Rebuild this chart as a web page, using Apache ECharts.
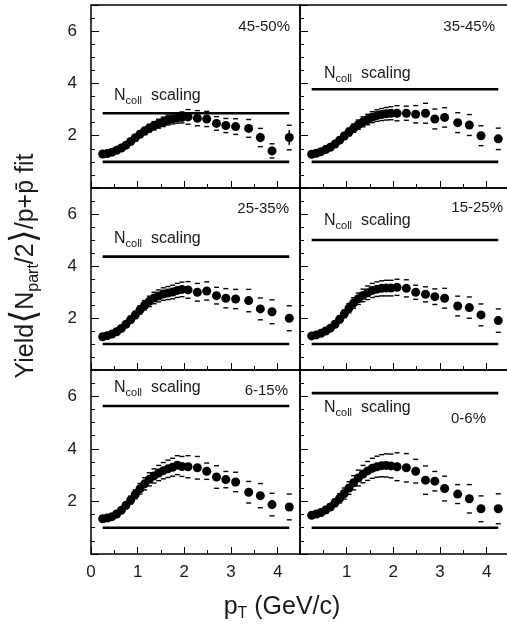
<!DOCTYPE html>
<html><head><meta charset="utf-8">
<script src="https://cdn.jsdelivr.net/npm/echarts@6/dist/echarts.min.js"></script>
<style>html,body{margin:0;padding:0;background:#fff}#c{width:507px;height:629px}</style>
</head><body><div id="c"></div>
<script>
// ---------------- data ----------------
const pT = [0.25,0.35,0.45,0.55,0.65,0.75,0.85,0.95,1.05,1.15,1.25,1.35,1.45,1.55,1.65,1.75,1.85,1.95,
            2.08,2.28,2.48,2.69,2.89,3.10,3.38,3.63,3.88,4.25];
const centralityLabels = ['45-50%','35-45%','25-35%','15-25%','6-15%','0-6%'];
const ncollScaling = [2.86,3.78,4.36,5.00,5.63,6.12];
const npartScaling = 1.0;
const scalingRange = [0.25,4.25];
const xTicks = [0,1,2,3,4];
const yTicks = [2,4,6];

const yield45_50 = [1.30,1.32,1.37,1.44,1.53,1.64,1.78,1.92,2.06,2.18,2.29,2.38,2.46,2.53,2.60,2.65,2.68,2.70,
                    2.72,2.67,2.64,2.47,2.39,2.35,2.28,1.93,1.42,1.93];
const yield35_45 = [1.29,1.33,1.39,1.47,1.56,1.68,1.83,1.99,2.14,2.29,2.42,2.53,2.62,2.71,2.77,2.81,2.84,2.86,
                    2.86,2.86,2.82,2.86,2.64,2.70,2.50,2.41,2.00,1.88];
const yield25_35 = [1.28,1.32,1.38,1.47,1.60,1.76,1.94,2.12,2.31,2.49,2.64,2.77,2.85,2.92,2.96,3.00,3.06,3.10,
                    3.08,2.99,3.04,2.86,2.76,2.73,2.67,2.35,2.24,1.99];
const yield15_25 = [1.31,1.35,1.41,1.50,1.61,1.76,1.95,2.16,2.38,2.58,2.74,2.87,2.97,3.06,3.11,3.14,3.15,3.15,
                    3.18,3.14,2.99,2.91,2.82,2.76,2.46,2.40,2.12,1.90];
const yield6_15  = [1.34,1.37,1.42,1.52,1.66,1.85,2.05,2.27,2.48,2.67,2.84,2.97,3.08,3.17,3.24,3.30,3.38,3.33,
                    3.32,3.28,3.15,2.93,2.83,2.74,2.35,2.22,1.88,1.79];
const yield0_6   = [1.47,1.52,1.58,1.67,1.79,1.95,2.12,2.30,2.51,2.71,2.89,3.04,3.16,3.26,3.32,3.36,3.37,3.35,
                    3.32,3.28,3.15,2.81,2.77,2.49,2.28,2.10,1.72,1.72];

const sys45_50 = [0.04,0.04,0.05,0.06,0.07,0.08,0.10,0.11,0.13,0.14,0.15,0.16,0.17,0.18,0.19,0.20,0.20,0.21,
                  0.28,0.29,0.29,0.26,0.27,0.30,0.34,0.35,0.27,0.47];
const sys35_45 = [0.04,0.05,0.05,0.06,0.08,0.09,0.11,0.13,0.15,0.16,0.18,0.19,0.20,0.21,0.22,0.23,0.24,0.25,
                  0.29,0.27,0.33,0.38,0.38,0.37,0.38,0.40,0.38,0.41];
const sys25_35 = [0.04,0.05,0.05,0.07,0.08,0.10,0.12,0.14,0.16,0.18,0.20,0.22,0.23,0.24,0.25,0.26,0.27,0.28,
                  0.32,0.34,0.35,0.32,0.37,0.37,0.43,0.42,0.46,0.48];
const sys15_25 = [0.04,0.05,0.06,0.07,0.09,0.11,0.13,0.15,0.18,0.20,0.22,0.24,0.26,0.27,0.28,0.29,0.30,0.30,
                  0.31,0.33,0.27,0.29,0.30,0.38,0.38,0.41,0.42,0.45];
const sys6_15  = [0.05,0.05,0.06,0.08,0.10,0.12,0.15,0.17,0.20,0.23,0.25,0.27,0.29,0.31,0.33,0.34,0.36,0.38,
                  0.42,0.43,0.31,0.43,0.31,0.37,0.41,0.46,0.43,0.49];
const sys0_6   = [0.05,0.06,0.08,0.10,0.12,0.15,0.18,0.21,0.24,0.27,0.30,0.33,0.36,0.38,0.40,0.42,0.44,0.45,
                  0.53,0.54,0.45,0.54,0.37,0.47,0.36,0.54,0.49,0.57];

const stat45_50 = [0,0,0,0,0,0,0,0,0,0,0,0,0,0,0,0,0,0,
                   0,0,0,0,0,0.06,0.08,0.18,0.18,0.28];

// ---------------- build ----------------
const FONT = '"Liberation Sans", Arial, Helvetica, sans-serif';
const yields = [yield45_50,yield35_45,yield25_35,yield15_25,yield6_15,yield0_6];
const syss = [sys45_50,sys35_45,sys25_35,sys15_25,sys6_15,sys0_6];
const stats = [stat45_50,null,null,null,null,null];

const colLeft = [91,300];
const rowBox = [[5,183],[188,182],[370,184]];
const PW = 209;
const XMAX = 4.48, YMIN = 0, YMAX = 7;

const grid=[], xAxis=[], yAxis=[], series=[];
for (let i=0;i<6;i++){
  const r=Math.floor(i/2), c=i%2;
  grid.push({left:colLeft[c], top:rowBox[r][0], width:PW, height:rowBox[r][1],
             outerBoundsMode:'none', containLabel:false,
             show:true, borderColor:'#000', borderWidth:1.5, backgroundColor:'transparent'});
  const bx = {gridIndex:i, type:'value', min:0, max:XMAX, position:'bottom',
              axisLine:{show:false}, splitLine:{show:false}};
  xAxis.push(Object.assign({}, bx, {interval:1,
    axisTick:{show:true, inside:true, length:7, lineStyle:{color:'#000', width:1}},
    axisLabel:{show:r===2, margin:10, fontSize:17, color:'#1a1a1a', fontFamily:FONT,
      formatter:v => (xTicks.indexOf(v)>=0 && !(c===1 && v===0)) ? String(v) : ''}}));
  xAxis.push(Object.assign({}, bx, {interval:0.5,
    axisTick:{show:true, inside:true, length:4, lineStyle:{color:'#000', width:1}},
    axisLabel:{show:false}}));
  const by = {gridIndex:i, type:'value', min:YMIN, max:YMAX, position:'left',
              axisLine:{show:false}, splitLine:{show:false}};
  yAxis.push(Object.assign({}, by, {interval:2,
    axisTick:{show:true, inside:true, length:8, lineStyle:{color:'#000', width:1}},
    axisLabel:{show:c===0, margin:14, fontSize:17, color:'#1a1a1a', fontFamily:FONT,
      formatter:v => yTicks.indexOf(v)>=0 ? String(v) : ''}}));
  yAxis.push(Object.assign({}, by, {interval:0.5,
    axisTick:{show:true, inside:true, length:4, lineStyle:{color:'#000', width:1}},
    axisLabel:{show:false}}));

  const xi=2*i, yi=2*i;
  const y=yields[i], s=syss[i];
  series.push({type:'line', xAxisIndex:xi, yAxisIndex:yi, symbol:'none', silent:true,
    data:[[scalingRange[0],ncollScaling[i]],[scalingRange[1],ncollScaling[i]]],
    lineStyle:{color:'#000', width:2.6, opacity:1}});
  series.push({type:'line', xAxisIndex:xi, yAxisIndex:yi, symbol:'none', silent:true,
    data:[[scalingRange[0],npartScaling],[scalingRange[1],npartScaling]],
    lineStyle:{color:'#000', width:2.6, opacity:1}});
  series.push({type:'scatter', xAxisIndex:xi, yAxisIndex:yi, symbol:'rect', symbolSize:[5,1.4], silent:true,
    itemStyle:{color:'#000', opacity:1}, data:pT.map((x,k)=>[x, y[k]+s[k]])});
  series.push({type:'scatter', xAxisIndex:xi, yAxisIndex:yi, symbol:'rect', symbolSize:[5,1.4], silent:true,
    itemStyle:{color:'#000', opacity:1}, data:pT.map((x,k)=>[x, y[k]-s[k]])});
  if (stats[i]) {
    const st=stats[i];
    series.push({type:'custom', xAxisIndex:xi, yAxisIndex:yi, silent:true,
      data:pT.map((x,k)=>[x, y[k], st[k]]).filter(d=>d[2]>0),
      renderItem:(params, api)=>{
        const x=api.value(0), v=api.value(1), e=api.value(2);
        const p1=api.coord([x, v-e]), p2=api.coord([x, v+e]);
        return {type:'line', shape:{x1:p1[0],y1:p1[1],x2:p2[0],y2:p2[1]},
                style:{stroke:'#000', lineWidth:1.6}};
      }});
  }
  series.push({type:'scatter', xAxisIndex:xi, yAxisIndex:yi, symbol:'circle', symbolSize:9, silent:true,
    itemStyle:{color:'#000', opacity:1, borderWidth:0}, data:pT.map((x,k)=>[x, y[k]]), z:5});
}

// annotation positions (pixels)
const labelPos = [[290,27],[495,27],[289,209],[503,208],[288,391],[486,419]];
const ncollPos = [[114,96],[324,74],[114,239],[324,221],[114,388],[324,408]];

const graphic = [];
for (let i=0;i<6;i++){
  graphic.push({type:'text', x:labelPos[i][0], y:labelPos[i][1], silent:true,
    style:{text:centralityLabels[i], fontSize:15, fontFamily:FONT, fill:'#1a1a1a',
           align:'right', verticalAlign:'middle'}});
  graphic.push({type:'text', x:ncollPos[i][0], y:ncollPos[i][1], silent:true,
    style:{text:'{n|N}{s|coll}{n|  scaling}', fontFamily:FONT, fill:'#1a1a1a',
           align:'left', verticalAlign:'middle',
           rich:{n:{fontSize:16, fontFamily:FONT, fill:'#1a1a1a', lineHeight:20, verticalAlign:'middle'},
                 s:{fontSize:11, fontFamily:FONT, fill:'#1a1a1a', lineHeight:11, verticalAlign:'bottom'}}}});
}
// axis titles
graphic.push({type:'text', x:282, y:607, silent:true,
  style:{text:'{p|p}{s|T}{p| (GeV/c)}', fontFamily:FONT, fill:'#1a1a1a', align:'center', verticalAlign:'middle',
    rich:{p:{fontSize:25, fontFamily:FONT, fill:'#1a1a1a', lineHeight:30, verticalAlign:'middle'},
          s:{fontSize:16, fontFamily:FONT, fill:'#1a1a1a', lineHeight:15, verticalAlign:'bottom'}}}});
graphic.push({type:'text', x:26, y:266, rotation:Math.PI/2, silent:true,
  style:{text:'{t|Yield}{b|\u27E8}{t|N}{s|part}{t|/2}{b|\u27E9}{t|/p+p\u0304 fit}', fontFamily:FONT, fill:'#1a1a1a',
    align:'center', verticalAlign:'middle',
    rich:{t:{fontSize:25, fontFamily:FONT, fill:'#1a1a1a', lineHeight:32, verticalAlign:'middle'},
          b:{fontSize:36, fontFamily:'"DejaVu Sans", sans-serif', fill:'#1a1a1a', lineHeight:32, verticalAlign:'middle'},
          s:{fontSize:16, fontFamily:FONT, fill:'#1a1a1a', lineHeight:15, verticalAlign:'bottom'}}}});

const chart = echarts.init(document.getElementById('c'), null, {renderer:'canvas', width:507, height:629});
chart.setOption({animation:false, backgroundColor:'#fff', grid, xAxis, yAxis, series, graphic});
</script>
</body></html>
